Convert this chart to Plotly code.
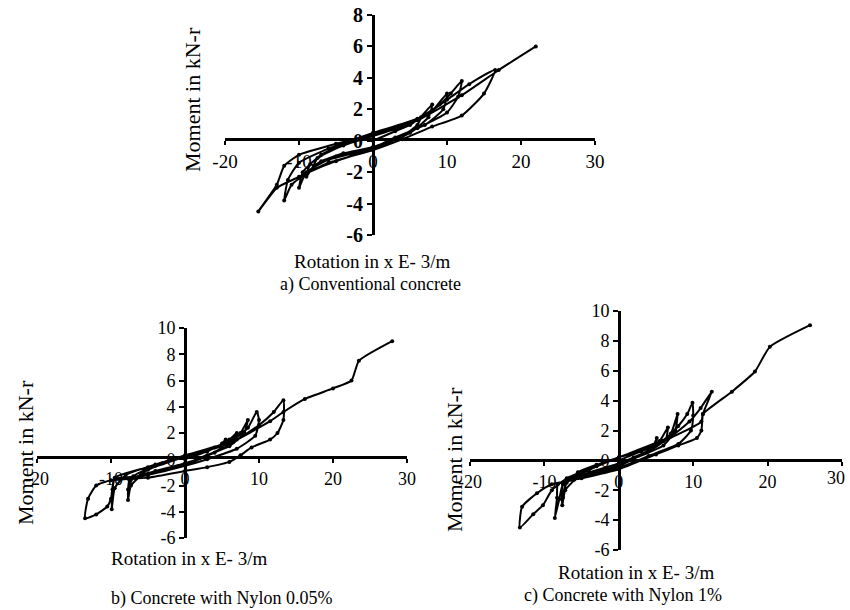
import plotly.graph_objects as go

# ---------------- data ----------------
# a) Conventional concrete
a_rot = [0, 3, 5, 6.5, 6, 4, 0, -4, -7, -8, -7.5, -4, 0,
         4, 6, 8, 7.5, 5, 0, -5, -8, -9, -8.5, -5, 0,
         5, 8, 10, 9.5, 7, 3, 0, -6, -9, -10, -9.5, -7, -3, 0,
         6, 9, 10.5, 12, 11.5, 10, 6, 2, 0, -5, -9, -11, -12, -11.5, -10, -6, 0,
         6, 10, 13, 16.5, 15, 12, 8, 4, 0, -6, -10, -13, -15.5, -13, -12, -10, -5, 0,
         6, 12, 17, 22]
a_mom = [0, 0.6, 1.0, 1.5, 1.0, 0.3, -0.4, -0.8, -1.3, -1.6, -1.1, -0.3, 0.3,
         0.9, 1.3, 2.3, 1.5, 0.5, -0.5, -1.0, -1.6, -2.3, -1.5, -0.4, 0.4,
         1.1, 1.9, 3.0, 2.0, 1.0, 0.2, -0.5, -1.2, -2.0, -3.0, -2.0, -0.9, 0.0, 0.5,
         1.4, 2.3, 3.0, 3.8, 2.8, 1.8, 0.8, 0.0, -0.5, -1.3, -2.1, -2.8, -3.8, -2.5, -1.4, -0.5, 0.4,
         1.3, 2.6, 3.6, 4.5, 3.0, 1.6, 0.9, 0.1, -0.6, -1.4, -2.3, -3.0, -4.5, -2.8, -1.6, -0.9, -0.2, 0.4,
         1.3, 2.9, 4.5, 6.0]

# b) Concrete with Nylon 0.05%
b_rot = [0, 3, 5, 5.5, 5, 3, 0, -4, -6, -5.5, -3, 0,
         4, 6, 7, 6.5, 4, 0, -5, -7, -7.7, -7, -4, 0,
         5, 7.5, 8.5, 8, 6, 2, 0, -5, -7.5, -7.7, -7.3, -5, 0,
         6, 8.5, 9.7, 10, 9.5, 7, 3, 0, -6, -9.5, -9.8, -9.9, -9.5, -8, -4, 0,
         7, 10, 12, 13.3, 13.3, 12.5, 11.5, 9, 7.5, 6, 3, 0, -5, -10, -12, -13.1, -13.5,
         -12, -10.5, -10, -9.5, -5, 0, 6, 11.5, 13.3, 16.2, 20, 22.5, 23.5, 28]
b_mom = [0, 0.6, 1.2, 1.5, 0.9, 0.3, -0.3, -0.9, -1.2, -0.8, -0.3, 0.2,
         0.9, 1.5, 2.0, 1.3, 0.5, -0.4, -1.1, -1.4, -2.3, -1.3, -0.5, 0.2,
         1.1, 2.0, 3.0, 2.0, 1.0, 0.1, -0.4, -1.2, -1.6, -3.1, -2.0, -0.8, 0.2,
         1.3, 2.4, 3.6, 3.0, 1.8, 0.8, 0.0, -0.5, -1.3, -1.5, -2.3, -3.8, -2.2, -1.2, -0.4, 0.3,
         1.5, 2.6, 3.6, 4.5, 3.0, 2.0, 1.5, 0.9, 0.3, -0.2, -0.6, -0.9, -1.4, -1.6, -2.0, -3.0, -4.5,
         -4.2, -3.6, -3.0, -1.4, -0.6, 0.2, 1.2, 2.9, 3.6, 4.6, 5.4, 6.0, 7.5, 9.0]

# c) Concrete with Nylon 1%
c_rot = [0, 3, 5, 5.1, 4.5, 2, 0, -4, -6, -5.5, -3, 0,
         4, 5.5, 6.6, 6.3, 4, 0, -5, -7, -7.5, -7, -4, 0,
         5, 7, 7.9, 7.6, 6, 2, 0, -5, -7.5, -7.6, -7.2, -5, 0,
         6, 8, 9.2, 9.9, 10, 9.7, 8, 4, 0, -6, -8.2, -8.3, -8.6, -8, -7.5, -4, 0,
         7, 9.5, 11, 12.5, 11.3, 11.1, 10.5, 8, 5, 0, -5, -9, -11, -13, -13.3,
         -11.5, -10.2, -9, -7, -3, 0, 6, 11.1, 11.3, 15.2, 18.3, 20.3, 25.7]
c_mom = [0, 0.6, 1.0, 1.5, 0.8, 0.2, -0.2, -0.8, -1.2, -0.8, -0.3, 0.2,
         0.8, 1.3, 2.2, 1.4, 0.6, -0.3, -1.0, -1.3, -2.5, -1.5, -0.6, 0.2,
         1.0, 1.8, 3.1, 2.0, 1.0, 0.1, -0.4, -1.1, -1.5, -3.0, -2.0, -0.9, 0.2,
         1.3, 2.3, 3.1, 3.85, 3.0, 2.0, 1.1, 0.3, -0.5, -1.3, -1.6, -2.5, -3.85, -2.6, -1.6, -0.6, 0.2,
         1.6, 2.6, 3.5, 4.6, 3.1, 2.0, 1.5, 1.0, 0.4, -0.6, -1.2, -1.6, -2.2, -3.1, -4.5,
         -3.6, -3.0, -2.0, -1.2, -0.4, 0.2, 1.3, 2.6, 3.1, 4.6, 5.95, 7.6, 9.05]

x_ticks = [-20, -10, 0, 10, 20, 30]
ya_ticks = [-6, -4, -2, 0, 2, 4, 6, 8]
ybc_ticks = [-6, -4, -2, 0, 2, 4, 6, 8, 10]

x_title = "Rotation in x E- 3/m"
y_title = "Moment in kN-r"
captions = ["a) Conventional concrete", "b) Concrete with Nylon 0.05%", "c) Concrete with Nylon 1%"]

# ---------------- figure ----------------
W, H = 850, 610
FONT = "Liberation Serif"

def px(x):
    return x / W

def py(y):
    return 1 - y / H

fig = go.Figure()
line_style = dict(color="black", width=2, shape="spline", smoothing=0.5)
marker_style = dict(color="black", size=4)
for rx, my, xa, ya in [(a_rot, a_mom, "x", "y"), (b_rot, b_mom, "x2", "y2"), (c_rot, c_mom, "x3", "y3")]:
    fig.add_trace(go.Scatter(x=rx, y=my, xaxis=xa, yaxis=ya, mode="lines+markers",
                             line=line_style, marker=marker_style, showlegend=False,
                             hoverinfo="skip", cliponaxis=False))

def xaxis_cfg(dom, pos, fsize, last_label=True):
    tt = [str(v) for v in x_ticks]
    if not last_label:
        tt[-1] = ""
    return dict(domain=dom, range=[-20, 30], anchor="free", position=pos,
                tickvals=x_ticks, ticktext=tt,
                showline=True, linecolor="black", linewidth=3, mirror=False,
                ticks="outside", ticklen=4, tickwidth=2, tickcolor="black",
                showgrid=False, zeroline=False, automargin=False,
                ticklabeloverflow="allow",
                tickfont=dict(family=FONT, size=fsize, color="black"))

def yaxis_cfg(dom, pos, rng, tv, fsize, bold=False):
    tt = [("<b>%d</b>" % v) if bold else str(v) for v in tv]
    return dict(domain=dom, range=rng, anchor="free", position=pos,
                tickvals=tv, ticktext=tt,
                showline=True, linecolor="black", linewidth=3, mirror=False,
                ticks="outside", ticklen=5, tickwidth=2, tickcolor="black",
                showgrid=False, zeroline=False, automargin=False,
                ticklabeloverflow="allow",
                tickfont=dict(family=FONT, size=fsize, color="black"))

layout = dict(
    width=W, height=H, margin=dict(l=0, r=0, t=0, b=0, pad=0, autoexpand=False),
    paper_bgcolor="white", plot_bgcolor="white",
    xaxis=xaxis_cfg([px(225), px(595)], py(139), 19),
    yaxis=yaxis_cfg([py(235), py(15)], px(373), [-6, 8], ya_ticks, 20, bold=True),
    xaxis2=xaxis_cfg([px(37), px(407)], py(457), 18),
    yaxis2=yaxis_cfg([py(538), py(328)], px(185), [-6, 10], ybc_ticks, 18),
    xaxis3=xaxis_cfg([px(470), px(842)], py(460), 18, last_label=False),
    yaxis3=yaxis_cfg([py(550), py(311)], px(619), [-6, 10], ybc_ticks, 18),
)
fig.update_layout(**layout)

def ann(text, x, y, size, angle=0):
    fig.add_annotation(text=text, x=px(x), y=py(y), xref="paper", yref="paper",
                       xanchor="center", yanchor="middle", showarrow=False, textangle=angle,
                       font=dict(family=FONT, size=size, color="black"))

ann(y_title, 193, 100, 22, -90)
ann(x_title, 372, 261, 19)
ann(captions[0], 370, 284, 18)
ann(y_title, 25, 453, 22, -90)
ann(x_title, 189, 558, 19)
ann(captions[1], 221, 598, 18)
ann(y_title, 455, 460, 22, -90)
ann(x_title, 636, 572, 19)
ann(captions[2], 623, 595, 18)
# last x tick label of panel c sits at the right edge of the page
ann(str(x_ticks[-1]), 836, 478, 18)

# remove the default page margin so the figure sits at the window's top-left corner
fig.write_html("out.html", config={"displayModeBar": False},
               post_script="document.body.style.margin='0';document.body.style.overflow='hidden';")
